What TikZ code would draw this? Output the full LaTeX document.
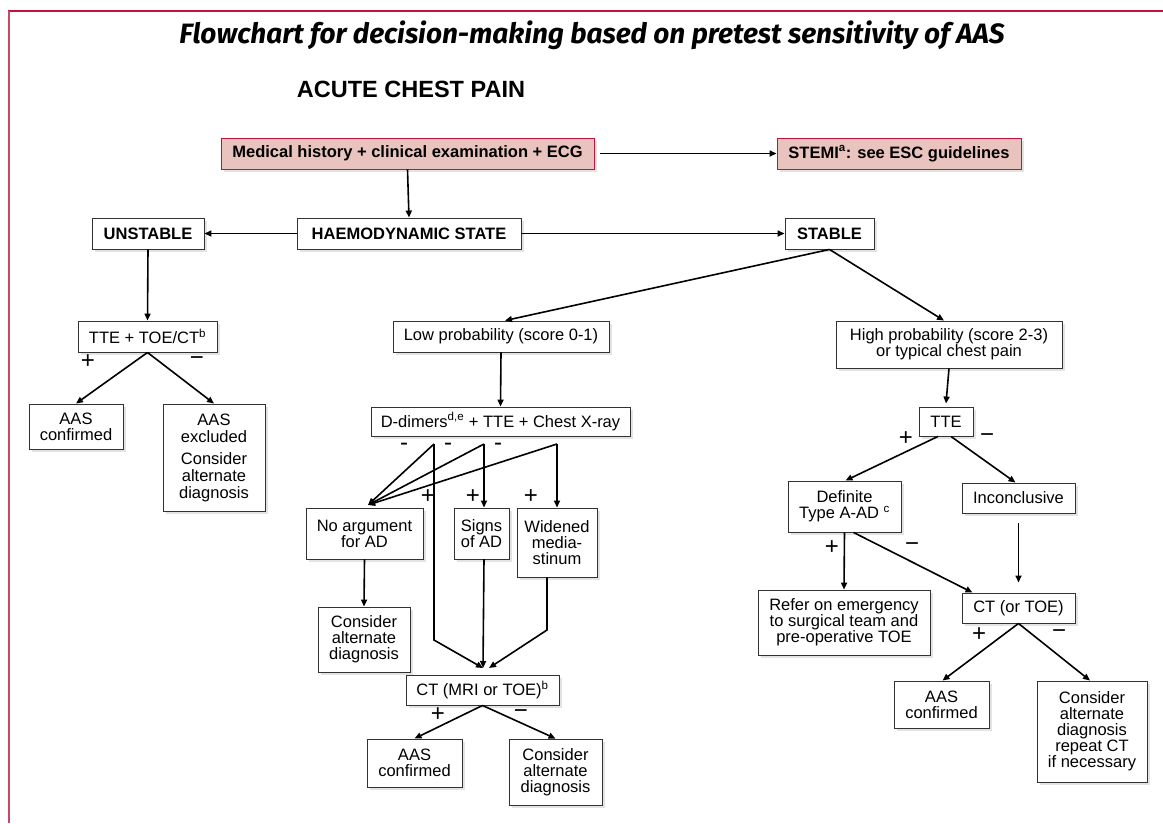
\documentclass[tikz,border=0pt]{standalone}
\usepackage{fontspec}
\setmainfont{Liberation Sans}
\newfontfamily\titlefont{Fira Sans}
\usetikzlibrary{arrows.meta,shadows}
\definecolor{crimson}{RGB}{196,16,58}
\definecolor{framepink}{RGB}{200,72,108}
\definecolor{pinkfill}{RGB}{233,196,191}
\definecolor{boxline}{RGB}{50,50,50}
\tikzset{
  box/.style={draw=boxline, fill=white, line width=0.9pt, align=center, inner sep=0pt,
    font=\fontsize{16.5}{16}\selectfont,
    drop shadow={opacity=0.22, shadow xshift=3pt, shadow yshift=-3pt}},
  bbox/.style={box, font=\bfseries\fontsize{16.5}{16}\selectfont},
  pinkbox/.style={box, fill=pinkfill, draw=crimson, font=\bfseries\fontsize{16.5}{16}\selectfont},
  conn/.style={line width=1.6pt, -{Triangle[length=7pt,width=6pt]}},
  sign/.style={font=\fontsize{24}{24}\selectfont, inner sep=0pt}
}
\begin{document}
\begin{tikzpicture}[x=1pt,y=-1pt]
\useasboundingbox (0,0) rectangle (1163,823);
\fill[white] (0,0) rectangle (1163,823);
% frame
\draw[crimson, line width=1.5pt] (8,11) -- (1163,11);
\draw[framepink, line width=2pt] (9,11) -- (9,823);
% titles
\node[font=\titlefont\bfseries\itshape\fontsize{28}{28}\selectfont, inner sep=0pt] (title) at (592,35) {Flowchart for decision-making based on pretest sensitivity of AAS};
\node[font=\bfseries\fontsize{23.5}{23.5}\selectfont, inner sep=0pt] (acute) at (411,89) {ACUTE CHEST PAIN};
% top
\node[pinkbox, minimum width=373, minimum height=31] (med) at (407.5,153.5) {Medical history + clinical examination + ECG};
\node[pinkbox, minimum width=244, minimum height=31] (stemi) at (899,153.5) {STEMI\textsuperscript{a}: see ESC guidelines};
\node[bbox, minimum width=224, minimum height=31] (haemo) at (409,233.5) {HAEMODYNAMIC STATE};
\node[bbox, minimum width=112, minimum height=31] (unstable) at (148,233.5) {UNSTABLE};
\node[bbox, minimum width=89, minimum height=31] (stable) at (829.5,233.5) {STABLE};
% unstable branch
\node[box, minimum width=139, minimum height=31] (tte1) at (147.5,336.5) {TTE + TOE/CT\textsuperscript{b}};
\node[box, minimum width=94, minimum height=45] (aasc1) at (76,426.5) {AAS\\confirmed};
\node[box, minimum width=102, minimum height=107] (aasx) at (214,457.5) {AAS\\[1pt]excluded\\[6pt]Consider\\[1pt]alternate\\[1pt]diagnosis};
% low probability branch
\node[box, minimum width=216, minimum height=31] (low) at (501,336.5) {Low probability (score 0-1)};
\node[box, minimum width=259, minimum height=29] (ddim) at (500.5,421.5) {D-dimers\textsuperscript{d,e} + TTE + Chest X-ray};
\node[box, minimum width=117, minimum height=51] (noarg) at (364.5,533.5) {No argument\\for AD};
\node[box, minimum width=55, minimum height=51] (signs) at (481.5,533.5) {Signs\\of AD};
\node[box, minimum width=80, minimum height=69] (widened) at (557,542.5) {Widened\\media-\\stinum};
\node[box, minimum width=92, minimum height=65] (cons1) at (364,639.5) {Consider\\alternate\\diagnosis};
\node[box, minimum width=153, minimum height=30] (ctmri) at (482.5,690) {CT (MRI or TOE)\textsuperscript{b}};
\node[box, minimum width=95, minimum height=48] (aasc2) at (414.5,763) {AAS\\confirmed};
\node[box, minimum width=93, minimum height=66] (cons2) at (555.5,772) {Consider\\alternate\\diagnosis};
% high probability branch
\node[box, minimum width=226, minimum height=47] (high) at (949,344.5) {High probability (score 2-3)\\or typical chest pain};
\node[box, minimum width=54, minimum height=29] (tte2) at (946,421.5) {TTE};
\node[box, minimum width=113, minimum height=51] (defin) at (844.5,506.5) {Definite\\Type A-AD \textsuperscript{c}};
\node[box, minimum width=113, minimum height=30] (inconc) at (1018.5,498) {Inconclusive};
\node[box, minimum width=113, minimum height=30] (ctoe) at (1018.5,608) {CT (or TOE)};
\node[box, minimum width=172, minimum height=65] (refer) at (844,622.5) {Refer on emergency\\to surgical team and\\pre-operative TOE};
\node[box, minimum width=95, minimum height=47] (aasc3) at (941.5,704.5) {AAS\\confirmed};
\node[box, minimum width=110, minimum height=101] (cons3) at (1092,731.5) {Consider\\alternate\\diagnosis\\repeat CT\\if necessary};
% connectors top
\draw[conn] ([xshift=6pt]med.east) -- (stemi.west);
\draw[conn] (med.south) -- (haemo.north);
\draw[conn] (haemo.west) -- (unstable.east);
\draw[conn] (haemo.east) -- (stable.west);
% unstable
\draw[conn] (unstable.south) -- (tte1.north);
\draw[conn] (tte1.south) -- (aasc1.north);
\draw[conn] (tte1.south) -- (aasx.north);
\node[sign] (p1) at (88,362) {+};
\node[sign] (m1) at (197,361) {−};
% stable
\draw[conn] (stable.south) -- ([xshift=4pt]low.north);
\draw[conn] (stable.south) -- ([xshift=-5pt]high.north);
% low branch
\draw[conn] (low.south) -- (ddim.north);
\coordinate (j1) at (434,444);
\coordinate (j2) at (484,444);
\coordinate (j3) at (557,444);
\coordinate (na) at (368,505);
\coordinate (ctin) at (483,668);
\draw[conn] (j1) -- (na);
\draw[conn] (j2) -- (na);
\draw[conn] (j3) -- (na);
\draw[conn] (j2) -- (j2 |- signs.north);
\draw[conn] (j3) -- (j3 |- widened.north);
\draw[conn] (j1) -- (434,640) -- (ctin);
\draw[conn] (484,559) -- (ctin);
\draw[conn] ([xshift=-10pt]widened.south) -- (547,630) -- ([xshift=6pt]ctin);
\draw[conn] (noarg.south) -- (cons1.north);
\node[sign] (m2) at (404,447) {-};
\node[sign] (m3) at (448,447) {-};
\node[sign] (m4) at (498,447) {-};
\node[sign] (p2) at (428,497) {+};
\node[sign] (p3) at (473,497) {+};
\node[sign] (p4) at (531,497) {+};
\draw[conn] (ctmri.south) -- (aasc2.north);
\draw[conn] (ctmri.south) -- (cons2.north);
\node[sign] (p5) at (438,715) {+};
\node[sign] (m5) at (521,714) {−};
% high branch
\draw[conn] (high.south) -- ([yshift=3pt]tte2.north);
\draw[conn] ([xshift=-8pt]tte2.south) -- ([xshift=1pt]defin.north);
\draw[conn] ([xshift=5pt]tte2.south) -- ([xshift=-3pt]inconc.north);
\node[sign] (p6) at (906,439) {+};
\node[sign] (m6) at (987,438) {−};
\draw[conn] ([yshift=-10pt]inconc.south) -- ([yshift=10pt]ctoe.north);
\draw[conn] (defin.south) -- (refer.north);
\draw[conn] ([xshift=9pt]defin.south) -- ([xshift=-46pt]ctoe.north);
\node[sign] (p7) at (832,548) {+};
\node[sign] (m7) at (912,547) {−};
\draw[conn] (ctoe.south) -- ([xshift=1pt]aasc3.north);
\draw[conn] (ctoe.south) -- ([xshift=-2pt]cons3.north);
\node[sign] (p8) at (979,635) {+};
\node[sign] (m8) at (1059,634) {−};
\end{tikzpicture}
\end{document}
